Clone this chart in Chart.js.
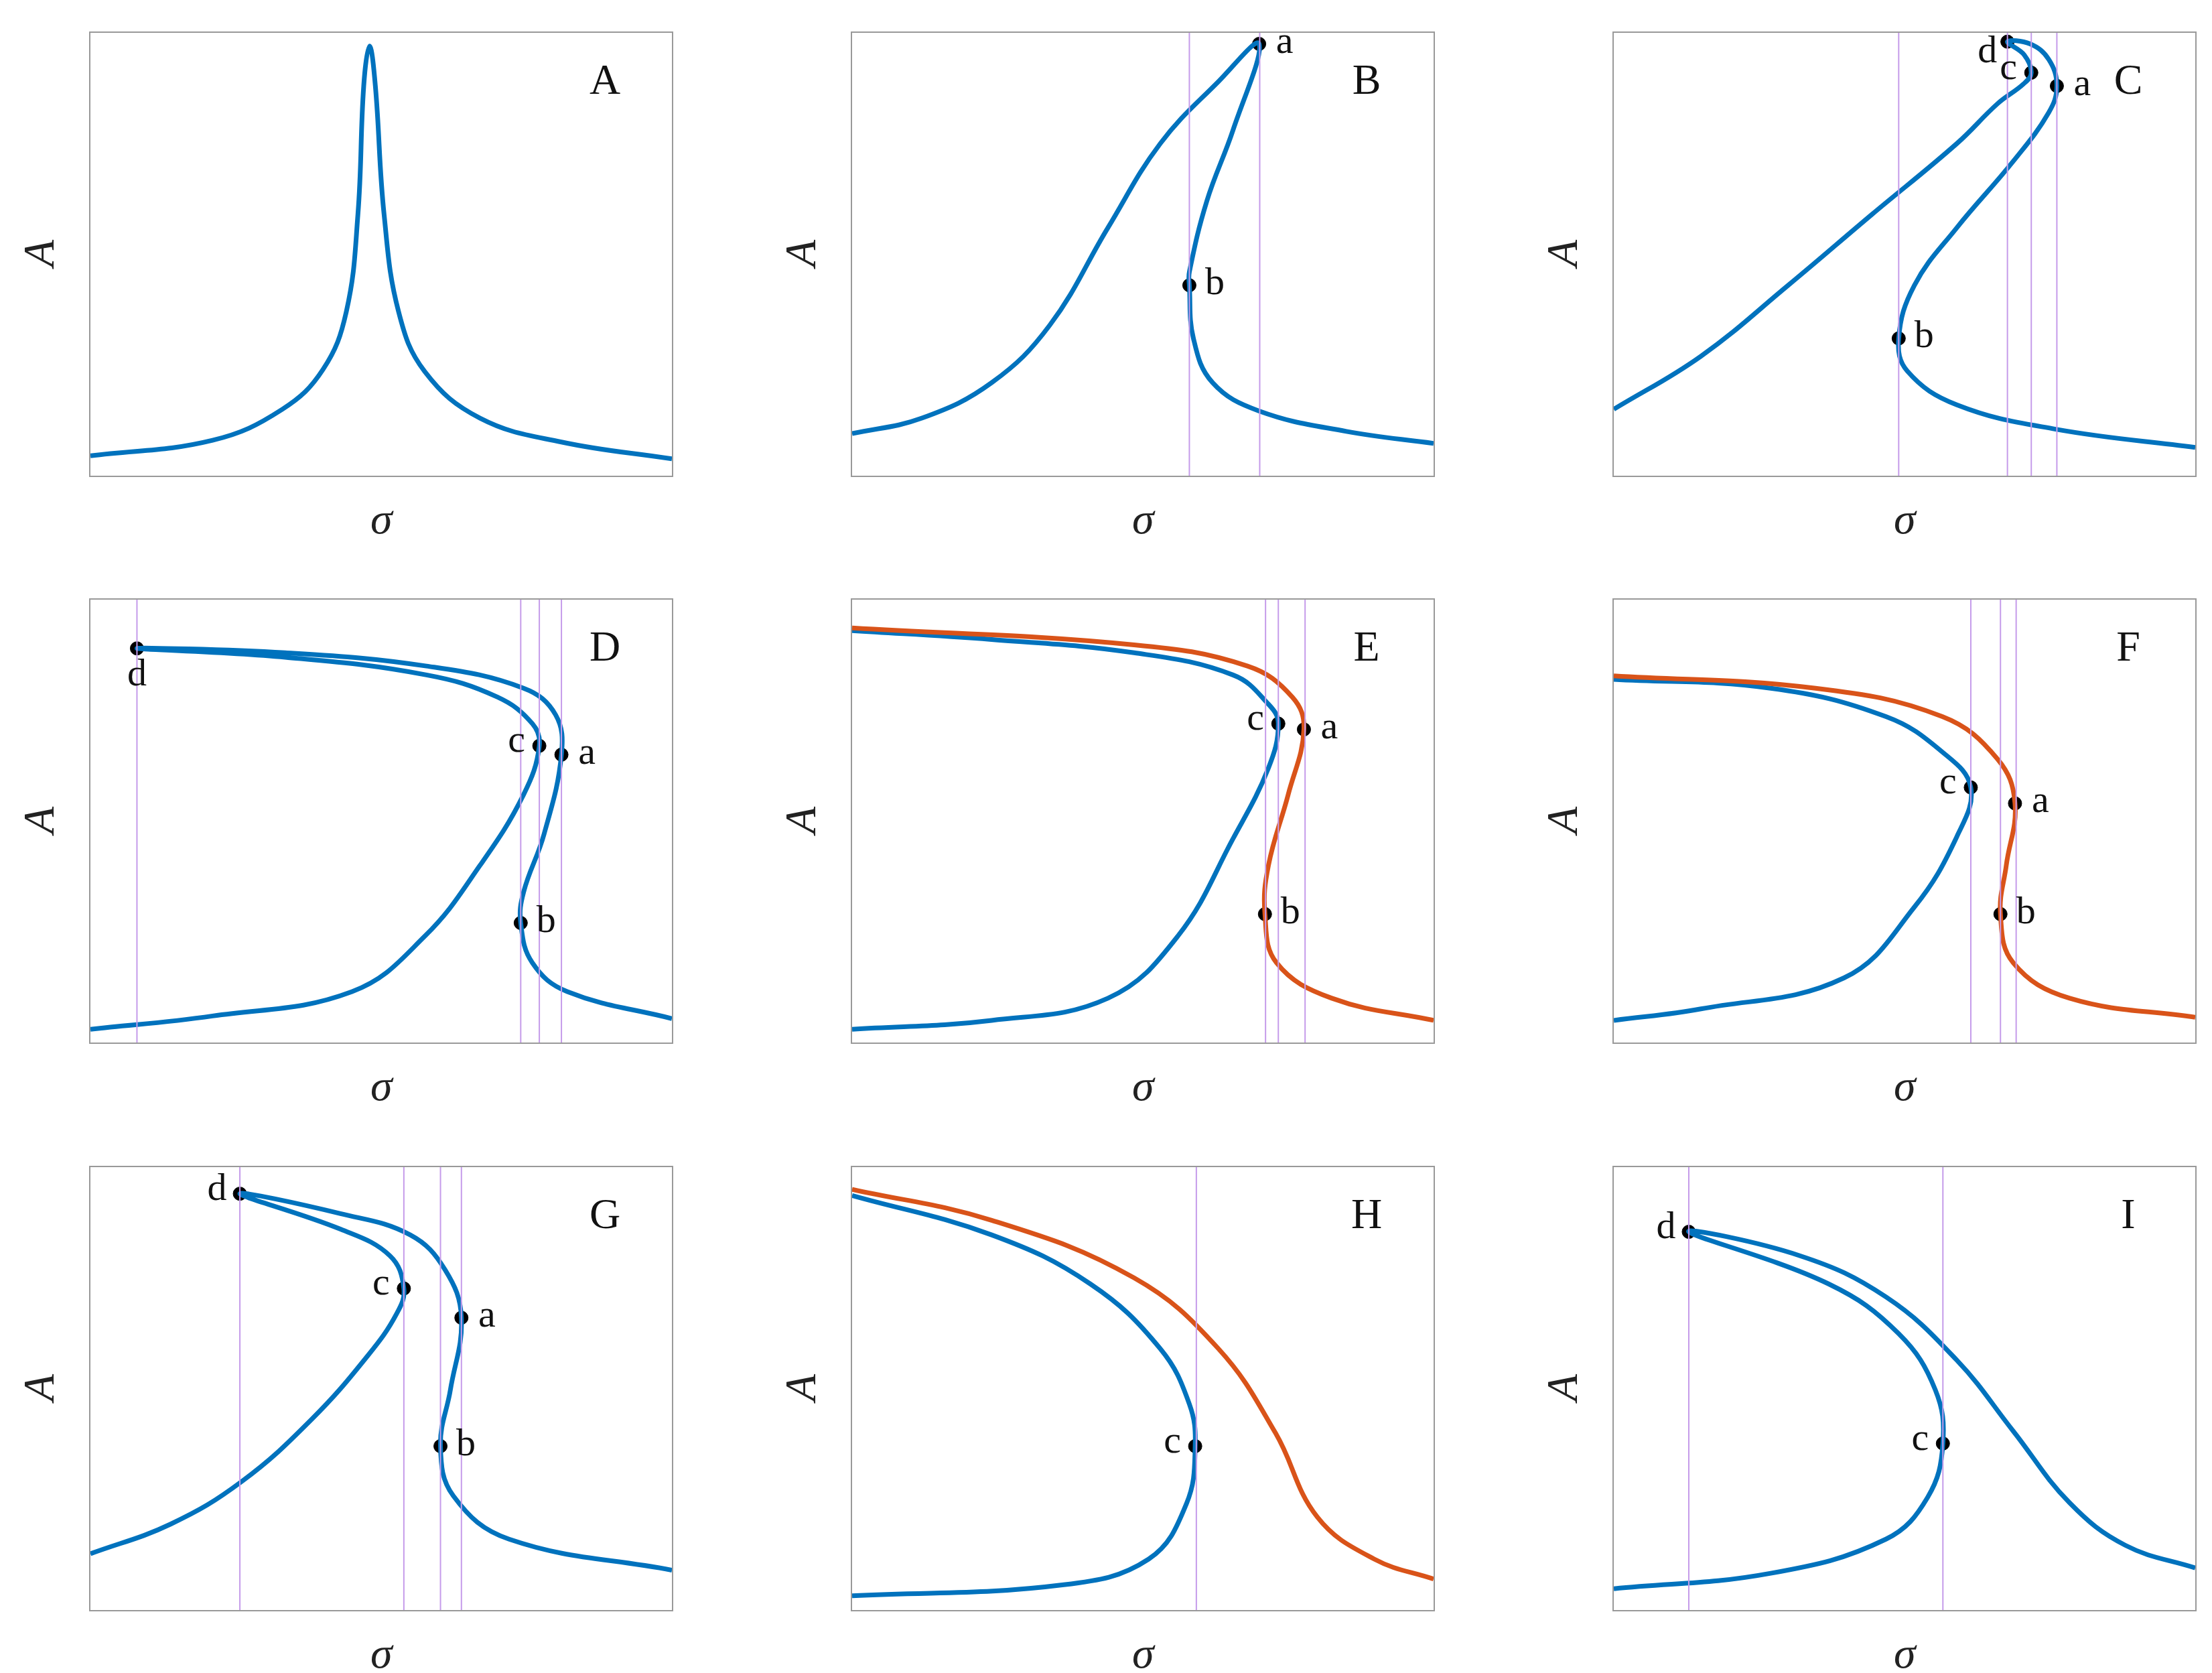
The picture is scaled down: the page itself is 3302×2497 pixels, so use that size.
<!DOCTYPE html>
<html>
<head>
<meta charset="utf-8">
<script src="https://cdn.jsdelivr.net/npm/chart.js@4.4.1/dist/chart.umd.min.js"></script>
<style>
  html, body { margin: 0; padding: 0; background: #fff; }
  body { width: 3302px; height: 2497px; position: relative; overflow: hidden; }
  .box { position: absolute; width: 872px; height: 665px; border: 2px solid #999; box-sizing: border-box; }
  .lab { position: absolute; font-family: "Liberation Serif", serif; font-style: italic; font-size: 66px; color: #222; }
</style>
</head>
<body>
<script>
// Panel data, normalised 0..100 in each plot box (x left->right, y bottom->top)
const BLUE = '#0072BD';
const ORANGE = '#D95319';

const panelNames = ['A', 'B', 'C', 'D', 'E', 'F', 'G', 'H', 'I'];

const blueA = [[0,4.5],[21,8],[33,15],[40,24],[44,37],[46,59],[47,88],[48,97],[49,88],[50.5,59],[53,37],[57.5,23.5],[67,13],[81,7.6],[100,3.8]];

const blueB = [[0,9.5],[12,13],[24,21],[34,34],[44,56],[53,75],[63,89],[70,97.5],[65.5,78],[61,62],[58,46],[58,43],[58.7,31],[62,21],[70,14.6],[85,10],[100,7.3]];
const vlineB = [58, 70.1];
const markB = [['a',70,97.5,'r'],['b',58,43,'r']];

const blueC = [[0,15],[15,27],[30,43],[44.4,59],[59,75],[66,84],[70.5,88.5],[71.8,91],[70.6,95],[67.7,98],[71.6,97.5],[74.8,94],[76.2,88],[74.8,82],[68.7,71],[59,56],[51.7,43],[49,31],[50.5,23.6],[59,16],[76,10.5],[100,6.4]];
const vlineC = [49, 67.7, 71.8, 76.2];
const markC = [['d',67.7,98,'lb'],['c',71.8,91,'l'],['a',76.2,88,'r'],['b',49,31,'r']];

const blueD = [[0,3],[21,6],[45,11.5],[57.5,24],[67,40],[74.5,56],[77.2,67],[76,72],[70,78],[57.8,83],[33.5,87],[8,89],[33.5,88],[57.8,85],[74.5,80],[80,74],[81,65],[78,47],[74.5,34],[74,27],[76,18],[82,11.5],[100,5.4]];
const vlineD = [8, 74, 77.2, 81];
const markD = [['d',8,89,'b'],['c',77.2,67,'l'],['a',81,65,'r'],['b',74,27,'r']];

const blueE = [[0,93],[24,91],[48.5,88],[65.5,83],[71.6,76.4],[73.3,72],[71.6,62],[65.5,46],[56,24],[44,10],[24,5],[0,3]];
const orangeE = [[0,93.6],[48.5,89.8],[68,85],[75.7,78],[77.7,70.7],[75,56],[71.6,40],[71,29],[73,18],[82.5,10],[100,5]];
const vlineE = [71.1, 73.3, 77.9];
const markE = [['c',73.3,72,'l'],['a',77.7,70.7,'r'],['b',71,29,'r']];

const blueF = [[0,82],[27,80],[46.8,73.6],[56.5,65.6],[61.4,57.6],[59,46.5],[51.7,30.6],[39.6,14.6],[15,7.6],[0,5]];
const orangeF = [[0,82.8],[34.7,80],[56.5,73.6],[66,64],[69,54],[67.5,40],[66.5,29],[68.7,18],[78.4,10],[100,5.7]];
const vlineF = [61.4, 66.5, 69.2];
const markF = [['c',61.4,57.6,'l'],['a',69,54,'r'],['b',66.5,29,'r']];

const blueG = [[0,12.7],[13.8,19.4],[26,29],[38,43],[47.8,57.6],[52.7,67],[53.9,72.6],[51.5,80],[43,86],[25.7,94],[43,89.5],[55,84.7],[61,76.8],[63.8,66],[61.9,49.7],[60.2,37],[62.4,25.8],[72,16],[100,9]];
const vlineG = [25.7, 53.9, 60.2, 63.8];
const markG = [['d',25.7,94,'l'],['c',53.9,72.6,'l'],['a',63.8,66,'r'],['b',60.2,37,'r']];

const blueH = [[0,93.6],[24,84.7],[41,73.6],[53,59],[58,46.5],[59,37],[57.5,24],[51,11.5],[36.4,5.7],[0,3.2]];
const orangeH = [[0,95],[24,88],[48.5,75],[63,59],[72.8,40],[80,21],[89.8,11.5],[100,7]];
const vlineH = [59.2];
const markH = [['c',59,37,'l']];

const blueI = [[0,4.8],[27,8.3],[46.8,16],[54,25.5],[56.6,37.6],[55.3,49.7],[49,62.4],[37,73.6],[12.9,85.4],[32,80],[46.8,70.7],[59,56.4],[68.7,40.4],[78.4,24.2],[88,14.6],[100,9.5]];
const vlineI = [12.9, 56.6];
const markI = [['d',12.9,85.4,'l'],['c',56.6,37.6,'l']];

const panels = [
  { blue: blueA, orange: null, vlines: [], marks: [] },
  { blue: blueB, orange: null, vlines: vlineB, marks: markB },
  { blue: blueC, orange: null, vlines: vlineC, marks: markC },
  { blue: blueD, orange: null, vlines: vlineD, marks: markD },
  { blue: blueE, orange: orangeE, vlines: vlineE, marks: markE },
  { blue: blueF, orange: orangeF, vlines: vlineF, marks: markF },
  { blue: blueG, orange: null, vlines: vlineG, marks: markG },
  { blue: blueH, orange: orangeH, vlines: vlineH, marks: markH },
  { blue: blueI, orange: null, vlines: vlineI, marks: markI }
];

const COL_LEFT = [133, 1270, 2407];
const ROW_TOP = [47, 893, 1740];
const BOX_W = 872, BOX_H = 665;

const toPts = (arr) => arr.map(([x, y]) => ({ x, y }));

// draws panel letter and point labels
const labelPlugin = {
  id: 'labels',
  afterDatasetsDraw(chart, args, opts) {
    const { ctx, chartArea, scales } = chart;
    ctx.save();
    ctx.fillStyle = '#111';
    ctx.font = '64px "Liberation Serif", serif';
    ctx.textAlign = 'center';
    ctx.textBaseline = 'middle';
    ctx.fillText(opts.name, chartArea.right - 100, chartArea.top + 74);
    ctx.font = '58px "Liberation Serif", serif';
    opts.marks.forEach(([t, x, y, side]) => {
      const px = scales.x.getPixelForValue(x);
      const py = scales.y.getPixelForValue(y);
      if (side === 'r') ctx.fillText(t, px + 38, py - 2);
      else if (side === 'l') ctx.fillText(t, px - 34, py - 6);
      else if (side === 'lb') ctx.fillText(t, px - 30, py + 16);
      else ctx.fillText(t, px, py + 40);
    });
    ctx.restore();
  }
};

panels.forEach((p, i) => {
  const left = COL_LEFT[i % 3], top = ROW_TOP[Math.floor(i / 3)];
  const box = document.createElement('div');
  box.className = 'box';
  box.style.left = left + 'px';
  box.style.top = top + 'px';
  const canvas = document.createElement('canvas');
  box.appendChild(canvas);
  document.body.appendChild(box);

  const la = document.createElement('div');
  la.className = 'lab';
  la.textContent = 'A';
  la.style.left = (left - 95) + 'px';
  la.style.top = (top + BOX_H / 2 - 40) + 'px';
  la.style.transform = 'rotate(-90deg)';
  document.body.appendChild(la);

  const ls = document.createElement('div');
  ls.className = 'lab';
  ls.textContent = 'σ';
  ls.style.left = (left + BOX_W / 2 - 16) + 'px';
  ls.style.top = (top + BOX_H + 24) + 'px';
  document.body.appendChild(ls);

  const datasets = [];
  p.vlines.forEach((v) => {
    datasets.push({ data: [{ x: v, y: 0 }, { x: v, y: 100 }], showLine: true, borderColor: '#C59BEA', borderWidth: 2, pointRadius: 0 });
  });
  if (p.orange) {
    datasets.push({ data: toPts(p.orange), showLine: true, borderColor: ORANGE, borderWidth: 7, pointRadius: 0, tension: 0.4 });
  }
  datasets.push({ data: toPts(p.blue), showLine: true, borderColor: BLUE, borderWidth: 7, pointRadius: 0, tension: 0.4 });
  datasets.push({ data: p.marks.map(([t, x, y]) => ({ x, y })), showLine: false, pointRadius: 10, backgroundColor: '#000', borderColor: '#000', clip: false });

  new Chart(canvas, {
    type: 'scatter',
    data: { datasets },
    plugins: [labelPlugin],
    options: {
      responsive: true,
      maintainAspectRatio: false,
      animation: false,
      layout: { padding: 0, autoPadding: false },
      plugins: { legend: { display: false }, tooltip: { enabled: false }, labels: { name: panelNames[i], marks: p.marks } },
      scales: {
        x: { type: 'linear', min: 0, max: 100, display: false },
        y: { type: 'linear', min: 0, max: 100, display: false }
      }
    }
  });
});
</script>
</body>
</html>
